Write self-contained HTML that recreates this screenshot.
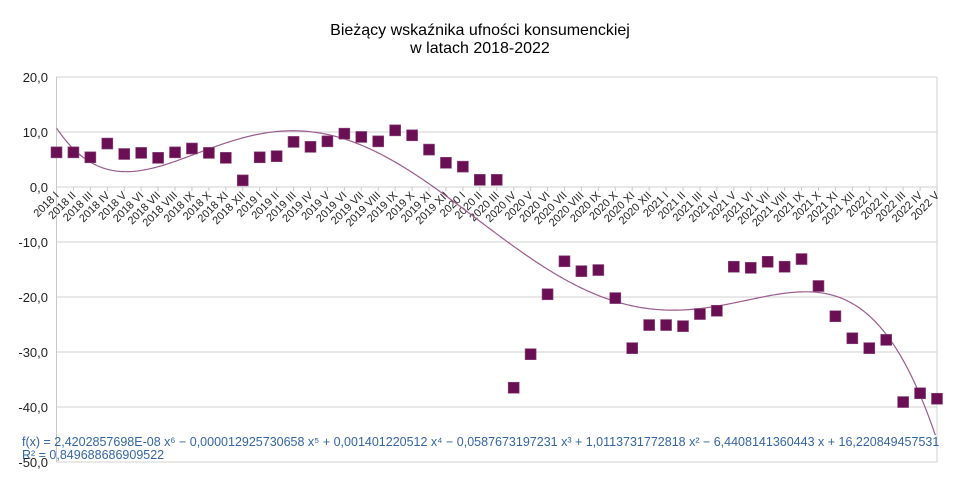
<!DOCTYPE html>
<html><head><meta charset="utf-8"><style>
body{margin:0;background:#fff}
svg{display:block;font-family:"Liberation Sans",sans-serif}
</style></head><body>
<svg id="c" width="960" height="480">
<text x="480" y="35" text-anchor="middle" font-size="16">Bieżący wskaźnika ufności konsumenckiej</text>
<text x="480" y="53" text-anchor="middle" font-size="16">w latach 2018-2022</text>
</svg>
<script>
const years=["2018","2019","2020","2021","2022"];
const months=["I","II","III","IV","V","VI","VII","VIII","IX","X","XI","XII"];
const values=[6.3,6.3,5.4,7.9,6.0,6.2,5.3,6.3,7.0,6.2,5.3,1.2,
5.4,5.6,8.2,7.3,8.3,9.7,9.1,8.3,10.3,9.4,6.8,4.4,
3.7,1.3,1.3,-36.5,-30.4,-19.5,-13.5,-15.3,-15.1,-20.2,-29.3,-25.1,
-25.1,-25.3,-23.1,-22.5,-14.5,-14.7,-13.6,-14.5,-13.1,-18.0,-23.5,-27.5,
-29.3,-27.8,-39.1,-37.5,-38.5];
const yTicks=[20,10,0,-10,-20,-30,-40,-50];
const trendCoef=[16.220849457531,-6.4408141360443,1.0113731772818,-0.0587673197231,0.001401220512,-0.000012925730658,2.4202857698E-08];
const categories=[];
years.forEach(y=>months.forEach(m=>{if(categories.length<values.length)categories.push(y+" "+m);}));
const NS="http://www.w3.org/2000/svg",svg=document.getElementById("c");
const L=56.5,R=937,T=77,B=462,ymax=20,ymin=-50;
const X=i=>L+(R-L)*i/(categories.length-1);
const Y=v=>T+(ymax-v)/(ymax-ymin)*(B-T);
function mk(t,a,p){const e=document.createElementNS(NS,t);for(const k in a)e.setAttribute(k,a[k]);(p||svg).appendChild(e);return e;}
const g=mk("g",{});


yTicks.forEach(v=>{
 const l=mk("line",{x1:L,x2:R,y1:Y(v),y2:Y(v),stroke:"#d0d0d0","stroke-width":1},g);
 
 
 const t=mk("text",{x:48,y:Y(v)+5,"text-anchor":"end","font-size":13,fill:"#222"});
 t.textContent=v.toFixed(1).replace(".",",");
 
 
});
const ax=mk("line",{x1:L,x2:L,y1:T,y2:B,stroke:"#c8c8c8"});


const ra=mk("line",{x1:R,x2:R,y1:T,y2:B,stroke:"#d0d0d0"});


categories.forEach((c,i)=>{
 const tk=mk("line",{x1:X(i),x2:X(i),y1:Y(0),y2:Y(0)+4,stroke:"#c8c8c8"});
 
 
 const t=mk("text",{x:0,y:0,"text-anchor":"end","font-size":11,fill:"#222",transform:`translate(${X(i)+3},${Y(0)+9}) rotate(-45)`});
 t.textContent=c;
 
 
});
const cp=mk("clipPath",{id:"cp"});
mk("rect",{x:L,y:T,width:R-L,height:B-T},cp);
let d="";
for(let s=1;s<=categories.length;s+=0.1){
 let v=0;trendCoef.forEach((c,k)=>v+=c*Math.pow(s,k));
 d+=(d?"L":"M")+X(s-1).toFixed(2)+","+Y(v).toFixed(2);
}
const tl=mk("path",{d:d,fill:"none",stroke:"#9b5b8e","stroke-width":1.2,"clip-path":"url(#cp)"});


values.forEach((v,i)=>{
 const r=mk("rect",{x:X(i)-5.5,y:Y(v)-5.5,width:11,height:11,fill:"#6b0f55",stroke:"#8a4a7c","stroke-width":0.6});
 
 
});
const f1=mk("text",{x:22,y:446,"font-size":12.5,fill:"#3465a4"});
f1.textContent="f(x) = 2,4202857698E-08 x⁶ − 0,000012925730658 x⁵ + 0,001401220512 x⁴ − 0,0587673197231 x³ + 1,0113731772818 x² − 6,4408141360443 x + 16,220849457531";


const f2=mk("text",{x:22,y:459,"font-size":12.5,fill:"#3465a4"});
f2.textContent="R² = 0,849688686909522";


</script>
</body></html>
